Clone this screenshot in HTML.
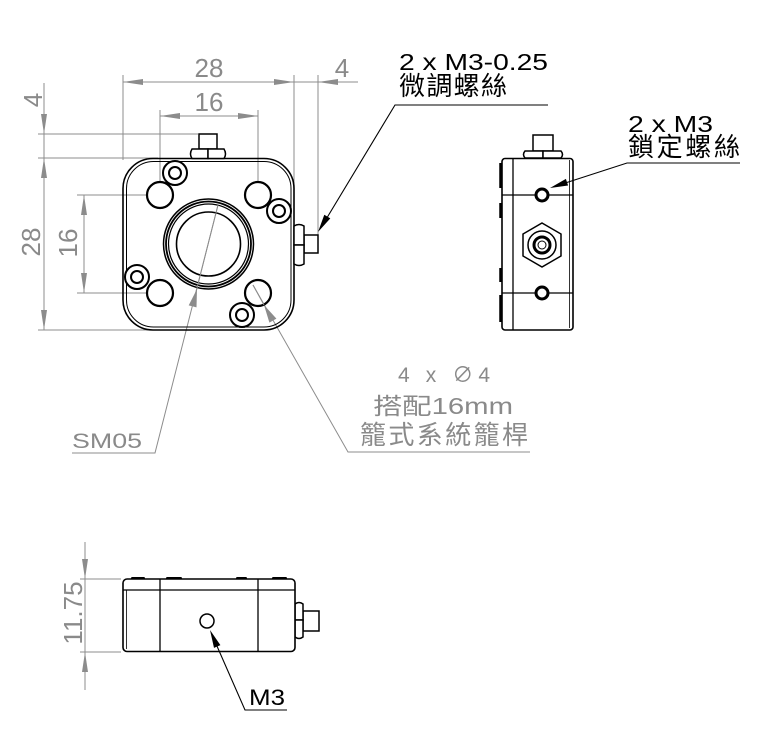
<!DOCTYPE html>
<html><head><meta charset="utf-8"><style>
html,body{margin:0;padding:0;background:#fff;}
svg{display:block;}
text{font-family:"Liberation Sans","Noto Sans CJK TC",sans-serif;}
</style></head><body>
<svg width="761" height="732" viewBox="0 0 761 732" xmlns="http://www.w3.org/2000/svg">
<rect width="761" height="732" fill="#fff"/>

<!-- ================= Gray dimension lines (front view) ================= -->
<g stroke="#8c8c8c" stroke-width="1" fill="none">
  <line x1="123" y1="82" x2="358" y2="82"/>
  <line x1="123" y1="75" x2="123" y2="160"/>
  <line x1="294" y1="75" x2="294" y2="223"/>
  <line x1="318" y1="75" x2="318" y2="235"/>
  <line x1="160" y1="116" x2="258" y2="116"/>
  <line x1="160" y1="110" x2="160" y2="182"/>
  <line x1="258" y1="110" x2="258" y2="182"/>
  <line x1="44" y1="83" x2="44" y2="330"/>
  <line x1="38" y1="134" x2="198" y2="134"/>
  <line x1="38" y1="158" x2="158" y2="158"/>
  <line x1="38" y1="330" x2="160" y2="330"/>
  <line x1="84" y1="195" x2="84" y2="293"/>
  <line x1="77" y1="195" x2="147" y2="195"/>
  <line x1="77" y1="293" x2="147" y2="293"/>
  <polyline points="72,453 155,453 218,205"/>
  <polyline points="530,452 348,452 253,285"/>
  <line x1="85" y1="542" x2="85" y2="690"/>
  <line x1="80" y1="579" x2="121" y2="579"/>
  <line x1="80" y1="652" x2="121" y2="652"/>
</g>
<g fill="#8c8c8c">
  <polygon points="123,82 143,79 143,85"/>
  <polygon points="294,82 274,79 274,85"/>
  <polygon points="318,82 338,79 338,85"/>
  <polygon points="160,116 180,113 180,119"/>
  <polygon points="258,116 238,113 238,119"/>
  <polygon points="44,134 41,114 47,114"/>
  <polygon points="44,158 41,178 47,178"/>
  <polygon points="44,330 41,310 47,310"/>
  <polygon points="84,195 81,215 87,215"/>
  <polygon points="84,293 81,273 87,273"/>
  <polygon points="85,579 82,559 88,559"/>
  <polygon points="85,652 82,672 88,672"/>
  <polygon points="197,289 196.5,307.4 188.7,305.4"/>
  <polygon points="264,305 276.4,318.6 269.4,322.6"/>
</g>

<!-- dimension text -->
<g fill="#8a8a8a" font-size="26">
  <text x="209" y="77" text-anchor="middle">28</text>
  <text x="209" y="111" text-anchor="middle">16</text>
  <text x="342" y="77" text-anchor="middle">4</text>
  <text transform="translate(42,100) rotate(-90)" text-anchor="middle">4</text>
  <text transform="translate(40,242) rotate(-90)" text-anchor="middle">28</text>
  <text transform="translate(77,243) rotate(-90)" text-anchor="middle">16</text>
  <text transform="translate(82,613) rotate(-90)" text-anchor="middle">11.75</text>
</g>
<g fill="#8a8a8a">
  <text x="72" y="448" font-size="21" textLength="70" lengthAdjust="spacingAndGlyphs">SM05</text>
  <text x="398" y="382" font-size="21" textLength="92">4 x ∅4</text>
  <text x="373" y="414" font-size="23" textLength="140" lengthAdjust="spacingAndGlyphs">搭配16mm</text>
  <text x="360" y="444" font-size="26" textLength="168">籠式系統籠桿</text>
</g>

<!-- ================= Front view ================= -->
<g stroke="#000" fill="none">
  <rect x="123" y="158.5" width="171" height="171.5" rx="30" stroke-width="1.6"/>
  <rect x="126.5" y="161.5" width="164.5" height="165.5" rx="27" stroke-width="1"/>
  <rect x="199" y="134" width="18" height="15" stroke-width="1.5" fill="#fff"/>
  <path d="M192,149 H208 V158.5 H192 Q189,154 192,149 Z" stroke-width="1.5" fill="#fff"/>
  <path d="M208,149 H224 Q227,154 224,158.5 H208 Z" stroke-width="1.5" fill="#fff"/>
  <rect x="304" y="235" width="14" height="18" stroke-width="1.5" fill="#fff"/>
  <path d="M294,226 Q299,223 304,226 V245 H294 Z" stroke-width="1.5" fill="#fff"/>
  <path d="M294,245 H304 V264 Q299,267 294,264 Z" stroke-width="1.5" fill="#fff"/>
  <g stroke-width="2.2">
    <circle cx="160" cy="195" r="13"/>
    <circle cx="258" cy="195" r="13"/>
    <circle cx="160" cy="293" r="13"/>
    <circle cx="258" cy="293" r="13"/>
  </g>
  <g stroke-width="2">
    <circle cx="175" cy="173" r="12" fill="#fff"/><circle cx="175" cy="173" r="6"/>
    <circle cx="279" cy="211" r="12" fill="#fff"/><circle cx="279" cy="211" r="6"/>
    <circle cx="137" cy="277" r="12" fill="#fff"/><circle cx="137" cy="277" r="6"/>
    <circle cx="242" cy="315" r="12" fill="#fff"/><circle cx="242" cy="315" r="6"/>
  </g>
  <circle cx="208.5" cy="244" r="45" stroke-width="1.5"/>
  <circle cx="208.5" cy="244" r="42.5" stroke-width="1.8"/>
  <circle cx="208.5" cy="244" r="40" stroke-width="1.2"/>
  <circle cx="208.5" cy="244" r="32" stroke-width="1.6"/>
</g>
<g stroke="#8c8c8c" stroke-width="1" fill="none">
  <line x1="196" y1="292" x2="218" y2="205"/>
  <line x1="264" y1="305" x2="253" y2="285"/>
</g>

<!-- ================= Side view ================= -->
<g stroke="#000" fill="none">
  <rect x="533" y="135" width="20" height="16" stroke-width="1.5" fill="#fff"/>
  <path d="M525,151 H543 V158 H525 Q522,154.5 525,151 Z" stroke-width="1.5" fill="#fff"/>
  <path d="M543,151 H561 Q564,154.5 561,158 H543 Z" stroke-width="1.5" fill="#fff"/>
  <rect x="502" y="158.5" width="71" height="171.5" rx="3" stroke-width="1.6"/>
  <line x1="513" y1="158.5" x2="513" y2="330" stroke-width="1.3"/>
  <line x1="569.5" y1="160" x2="569.5" y2="328" stroke-width="0.8"/>
  <line x1="502" y1="195" x2="573" y2="195" stroke-width="1.3"/>
  <line x1="502" y1="293" x2="573" y2="293" stroke-width="1.3"/>
  <line x1="500.5" y1="163" x2="500.5" y2="188" stroke-width="2.5"/>
  <line x1="500.5" y1="203" x2="500.5" y2="218" stroke-width="2.5"/>
  <line x1="500.5" y1="268" x2="500.5" y2="282" stroke-width="2.5"/>
  <line x1="500.5" y1="295" x2="500.5" y2="322" stroke-width="2.5"/>
  <circle cx="542" cy="195" r="6" stroke-width="3" fill="#fff"/>
  <circle cx="542" cy="293" r="6" stroke-width="3" fill="#fff"/>
  <polygon points="542,223 561,234 561,256 542,267 523,256 523,234" stroke-width="1.5"/>
  <circle cx="542" cy="245" r="14" stroke-width="1.5"/>
  <circle cx="542" cy="245" r="8" stroke-width="3"/>
  <circle cx="542" cy="245" r="4" stroke-width="1"/>
</g>

<!-- ================= Bottom view ================= -->
<g stroke="#000" fill="none">
  <rect x="303" y="611" width="16" height="20" stroke-width="1.5" fill="#fff"/>
  <path d="M295,604 Q299,601 303,604 V620 H295 Z" stroke-width="1.5" fill="#fff"/>
  <path d="M295,620 H303 V637 Q299,640 295,637 Z" stroke-width="1.5" fill="#fff"/>
  <rect x="123" y="579" width="172" height="72.5" rx="4" stroke-width="1.6" fill="#fff"/>
  <line x1="123" y1="590" x2="295" y2="590" stroke-width="1.3"/>
  <line x1="126.5" y1="590" x2="126.5" y2="649" stroke-width="0.8"/>
  <line x1="160" y1="579" x2="160" y2="651.5" stroke-width="1.3"/>
  <line x1="258" y1="579" x2="258" y2="651.5" stroke-width="1.3"/>
  <circle cx="207" cy="621" r="7" stroke-width="1.5"/>
</g>
<g fill="#000">
  <rect x="131" y="577" width="14" height="2.5" rx="1.2"/>
  <rect x="166" y="577" width="16" height="2.5" rx="1.2"/>
  <rect x="236" y="577" width="11" height="2.5" rx="1.2"/>
  <rect x="272" y="577" width="15" height="2.5" rx="1.2"/>
</g>

<!-- ================= Black leaders & labels ================= -->
<g stroke="#000" stroke-width="1.1" fill="none">
  <polyline points="548,105 395,105 322,226"/>
  <polyline points="740,163 627,163 556,186"/>
  <polyline points="287,710 245,710 213,637"/>
</g>
<g fill="#000">
  <polygon points="318,232 330.3,218.4 324.3,214.8"/>
  <polygon points="550,188 568.1,185.5 565.9,178.9"/>
  <polygon points="210,630 220.4,645.1 214,647.9"/>
  <text x="399" y="70" font-size="23" textLength="149" lengthAdjust="spacingAndGlyphs">2 x M3-0.25</text>
  <text x="399" y="95" font-size="26" textLength="108">微調螺絲</text>
  <text x="628" y="132" font-size="23" textLength="85" lengthAdjust="spacingAndGlyphs">2 x M3</text>
  <text x="628" y="156" font-size="26" textLength="112">鎖定螺絲</text>
  <text x="249" y="705" font-size="22" textLength="36" lengthAdjust="spacingAndGlyphs">M3</text>
</g>
</svg>
</body></html>
